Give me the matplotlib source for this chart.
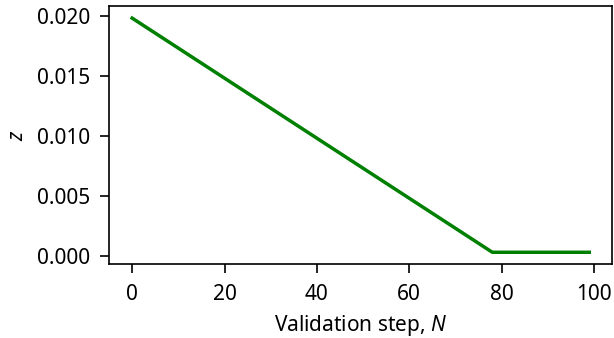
import matplotlib
matplotlib.use("Agg")
import matplotlib.pyplot as plt

# validation steps and z values (linear decay, then flat)
steps = [0, 78, 99]
z_vals = [0.0198, 0.0003, 0.0003]

x_ticks = [0, 20, 40, 60, 80, 100]
y_ticks = [0.0, 0.005, 0.010, 0.015, 0.020]
y_tick_labels = ['0.000', '0.005', '0.010', '0.015', '0.020']

plt.rcParams['font.family'] = ['Noto Sans', 'DejaVu Sans']
plt.rcParams['mathtext.fontset'] = 'custom'
plt.rcParams['mathtext.rm'] = 'Noto Sans'
plt.rcParams['mathtext.it'] = 'Noto Sans:italic'

fig = plt.figure(figsize=(6.14, 3.38), dpi=100)
ax = fig.add_subplot(1, 1, 1)
fig.subplots_adjust(left=0.178, right=0.997, bottom=0.219, top=0.981)

ax.plot(steps, z_vals, color='green', linewidth=2.5)

ax.set_xticks(x_ticks)
ax.set_yticks(y_ticks)
ax.set_yticklabels(y_tick_labels)
ax.tick_params(labelsize=15, length=6.5, width=1.2)
ax.tick_params(axis='x', pad=8)
ax.tick_params(axis='y', pad=7)
for s in ax.spines.values():
    s.set_linewidth(1.2)

ax.set_xlabel('Validation step, $N$', fontsize=15, labelpad=6)
ax.set_ylabel('$z$', fontsize=15, labelpad=7)

fig.savefig('out.png', dpi=100)
